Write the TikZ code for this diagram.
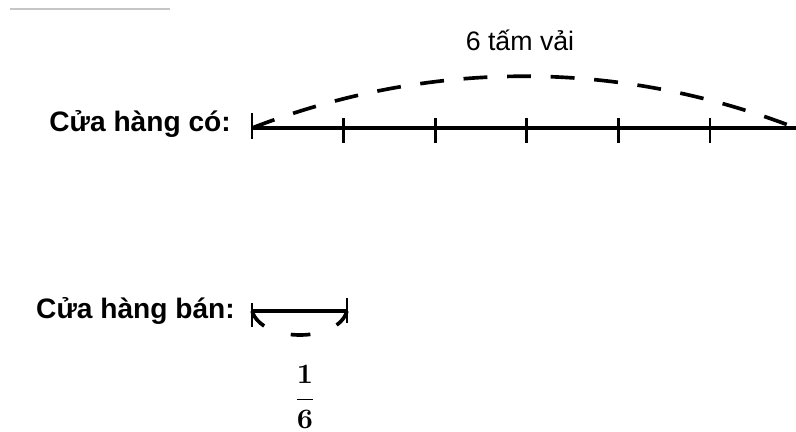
\documentclass[tikz,border=0pt]{standalone}
\usepackage[no-math]{fontspec}
\setmainfont{Liberation Sans}

\begin{document}
\begin{tikzpicture}[
  x=0.025cm, y=-0.025cm,
  every node/.style={inner sep=1pt},
  lbl/.style={font=\fontsize{20}{24}\selectfont\bfseries, anchor=base east, inner sep=0pt},
  top/.style={font=\fontsize{19}{23}\selectfont, inner sep=0pt},
  frac/.style={scale=2, inner sep=0pt},
  % the bar, its ticks, and the two dashed spans
  axis/.style={draw, line width=2.6pt},
  tickmark/.style={draw, line width=1.9pt},
  span/.style={draw, line width=2.6pt, dash pattern=on 17pt off 14pt},
  smallspan/.style={draw, line width=2.6pt, dash pattern=on 14pt off 20pt},
  rule/.style={draw, gray!45, line width=1.2pt}]

  \useasboundingbox (0,0) rectangle (796,432);

  % the grey rule in the corner
  \coordinate (r0) at (10,9);
  \coordinate (r1) at (170,9);
  \draw[rule] (r0) -- (r1);

  % vertices
  \foreach \i in {0,...,5}
    \coordinate (t\i) at (252+91.6*\i,128);
  \coordinate (tend) at (796,128);
  \coordinate (b0) at (252,311);
  \coordinate (b1) at (347,311);

  % the shop's bar
  \draw[axis] (t0) -- (tend);
  \draw[tickmark] (t0) ++(0,-15) -- ++(0,26);
  \foreach \i in {1,...,5}
    \draw[tickmark] (t\i) ++(0,-10) -- ++(0,25);
  \draw[span] (t0) .. controls (430,59) and (618,59) .. (tend);

  % the part sold
  \draw[axis] (b0) -- (b1);
  \draw[tickmark] (b0) ++(0,-8) -- ++(0,24);
  \draw[tickmark] (b1) ++(0,-13) -- ++(0,25);
  \draw[smallspan] (b0) .. controls (262,343) and (338,343) .. (b1);

  % labels printed inside the picture
  \node[lbl] (has) at (231,132) {Cửa hàng có:};
  \node[lbl] (sold) at (235,319) {Cửa hàng bán:};
  \node[top] (six) at (520,40) {6 tấm vải};
  \node[frac] (part) at (305,397)
    {$\displaystyle\frac{\raisebox{1.4pt}{$\mathbf{1}$}}{\raisebox{-1pt}{$\mathbf{6}$}}$};
\end{tikzpicture}
\end{document}
